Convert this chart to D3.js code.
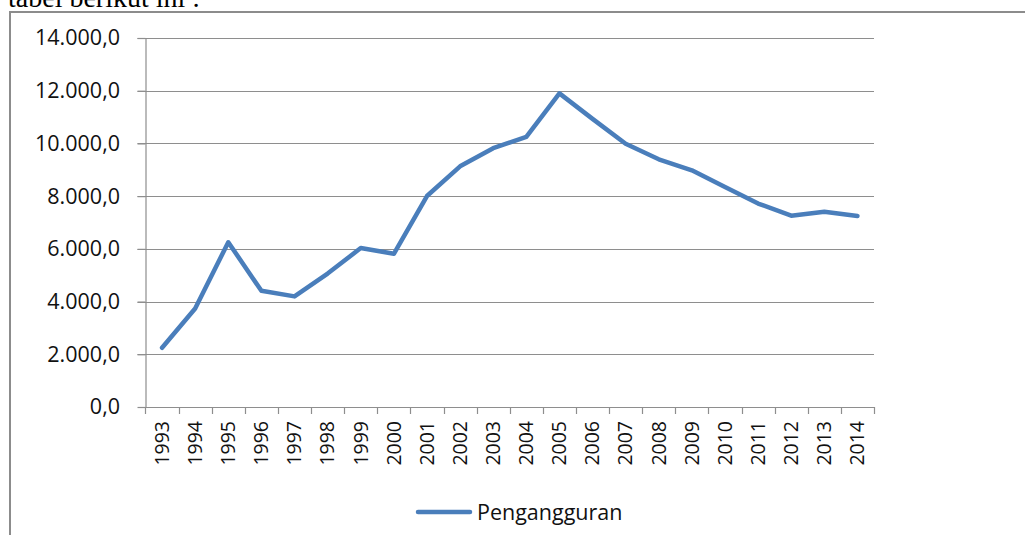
<!DOCTYPE html>
<html>
<head>
<meta charset="utf-8">
<script src="https://cdn.jsdelivr.net/npm/d3@7"></script>
<style>
  html, body { margin: 0; padding: 0; background: #fff; }
  svg { display: block; }
</style>
</head>
<body>
<svg id="chart" width="1025" height="535"></svg>
<script>
const years = ["1993","1994","1995","1996","1997","1998","1999","2000","2001","2002","2003",
               "2004","2005","2006","2007","2008","2009","2010","2011","2012","2013","2014"];
const pengangguran = [2246, 3738, 6251, 4408, 4197, 5063, 6030, 5813, 8005, 9132, 9820,
                      10251, 11899, 10932, 9990, 9397, 8980, 8350, 7720, 7260, 7410, 7250];
const yTicks = [0, 2000, 4000, 6000, 8000, 10000, 12000, 14000];
const seriesName = "Pengangguran";
const captionText = "tabel berikut ini :";

(function () {
const svg = d3.select("#chart");

// frame around chart
svg.append("rect")
  .attr("x", 10).attr("y", 12).attr("width", 1030).attr("height", 540)
  .attr("fill", "none").attr("stroke", "#8c8c8c").attr("stroke-width", 2);

// caption above chart (cropped by the top edge, as in the reference)
svg.append("text")
  .attr("x", 8).attr("y", 6.5)
  .attr("font-family", "Liberation Serif, serif")
  .attr("font-size", 28)
  .attr("fill", "#000")
  .text(captionText);

const pLeft = 145.5, pRight = 874, pTop = 38, pBottom = 407;

const x = d3.scaleBand().domain(years).range([pLeft, pRight]).padding(0);
const y = d3.scaleLinear().domain([0, 14000]).range([pBottom, pTop]);

const fmt = v => {
  const s = d3.format(",.1f")(v);
  return s.replace(/,/g, "#").replace(".", ",").replace(/#/g, ".");
};

// gridlines
svg.append("g").selectAll("line").data(yTicks.filter(d => d > 0)).join("line")
  .attr("x1", pLeft - 8).attr("x2", pRight)
  .attr("y1", d => Math.round(y(d)) + 0.5).attr("y2", d => Math.round(y(d)) + 0.5)
  .attr("stroke", "#8e8e8e").attr("stroke-width", 1.2);

// y axis
const yAxis = svg.append("g")
  .attr("transform", `translate(${pLeft},0)`)
  .call(d3.axisLeft(y).tickValues(yTicks).tickSize(8).tickFormat(fmt));
yAxis.select(".domain").attr("stroke", "#8e8e8e").attr("stroke-width", 1.2)
  .attr("d", `M0.5,${pTop}V${pBottom}`);
yAxis.selectAll(".tick line").attr("stroke", "#8e8e8e").attr("stroke-width", 1.2);
yAxis.selectAll(".tick text")
  .attr("x", -25.5)
  .attr("font-family", "Open Sans, sans-serif")
  .attr("font-size", 21.5)
  .attr("fill", "#111");

// x axis
const xAxis = svg.append("g")
  .attr("transform", `translate(0,${pBottom})`)
  .call(d3.axisBottom(x).tickSize(0).tickSizeOuter(0));
xAxis.select(".domain").attr("stroke", "#8e8e8e").attr("stroke-width", 1.2);
const bounds = years.map(d => x(d)).concat([pRight]);
xAxis.append("g").selectAll("line").data(bounds).join("line")
  .attr("x1", d => Math.round(d) + 0.5).attr("x2", d => Math.round(d) + 0.5)
  .attr("y1", 0).attr("y2", 7)
  .attr("stroke", "#8e8e8e").attr("stroke-width", 1.2);
xAxis.selectAll(".tick text")
  .attr("transform", "rotate(-90)")
  .attr("text-anchor", "end")
  .attr("x", -14).attr("y", 0).attr("dy", "0.35em")
  .attr("font-family", "Open Sans, sans-serif")
  .attr("font-size", 19.5)
  .attr("fill", "#111");

// line
const line = d3.line()
  .x((d, i) => x(years[i]) + x.bandwidth() / 2)
  .y(d => y(d));
svg.append("path")
  .datum(pengangguran)
  .attr("d", line)
  .attr("fill", "none")
  .attr("stroke", "#4a7ebb")
  .attr("stroke-width", 4.5)
  .attr("stroke-linejoin", "round")
  .attr("stroke-linecap", "round");

// legend
const lg = svg.append("g");
lg.append("line")
  .attr("x1", 418).attr("x2", 470).attr("y1", 512).attr("y2", 512)
  .attr("stroke", "#4a7ebb").attr("stroke-width", 4.5).attr("stroke-linecap", "round");
lg.append("text")
  .attr("x", 477).attr("y", 512).attr("dy", "0.35em")
  .attr("font-family", "Open Sans, sans-serif")
  .attr("font-size", 21.5)
  .attr("fill", "#111")
  .text(seriesName);
})();
</script>
</body>
</html>
